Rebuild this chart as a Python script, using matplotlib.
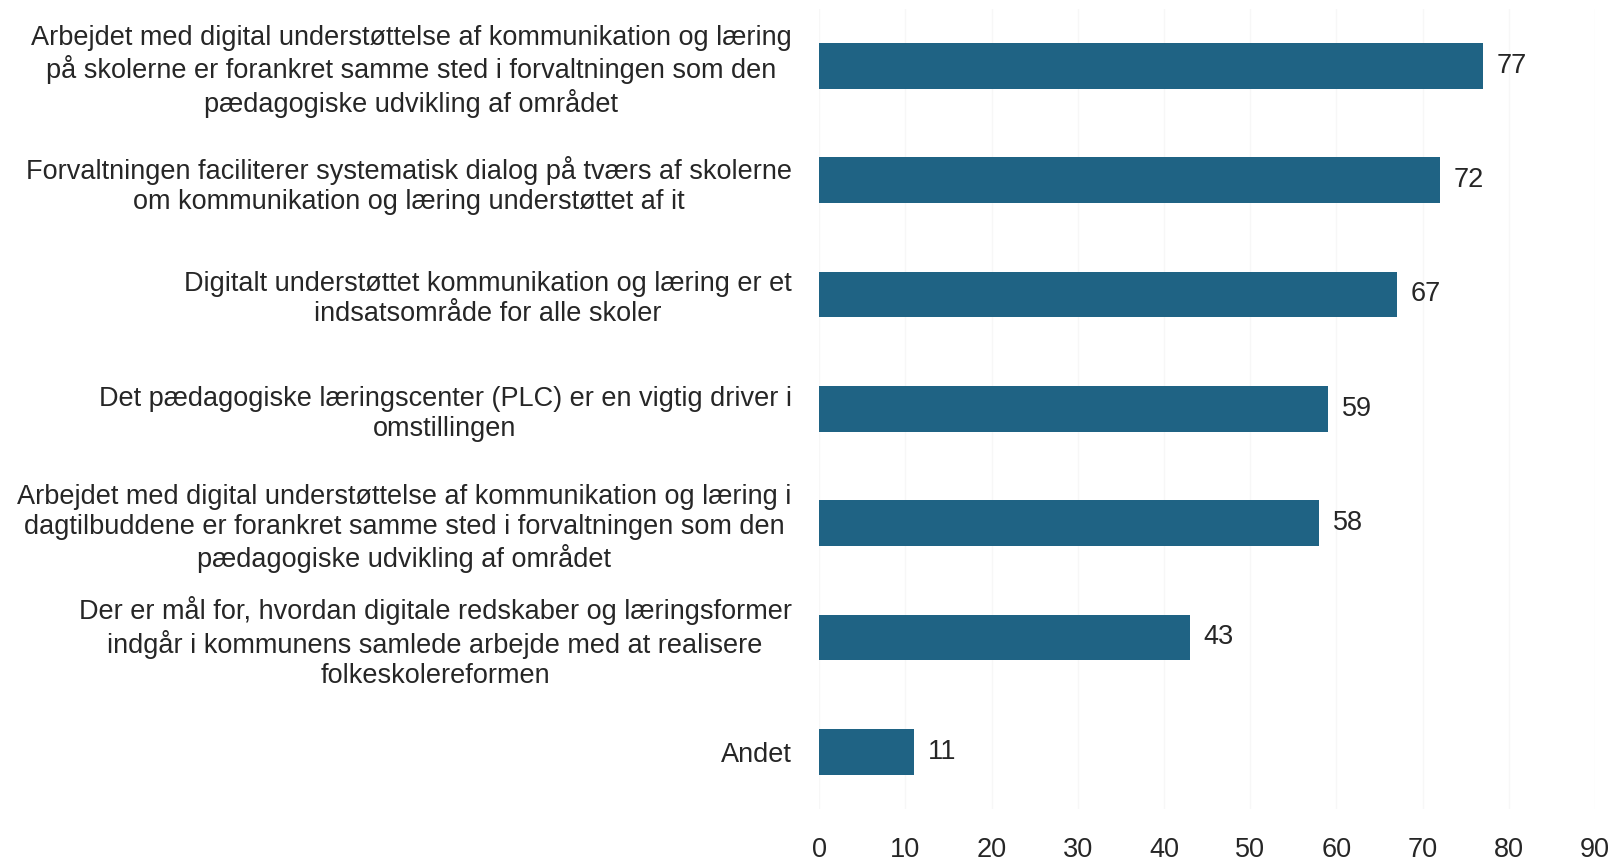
import numpy as np
import matplotlib.pyplot as plt

# Data
labels = [
    "Arbejdet med digital understøttelse af kommunikation og læring\n"
    "på skolerne er forankret samme sted i forvaltningen som den\n"
    "pædagogiske udvikling af området",
    "Forvaltningen faciliterer systematisk dialog på tværs af skolerne\n"
    "om kommunikation og læring understøttet af it",
    "Digitalt understøttet kommunikation og læring er et\n"
    "indsatsområde for alle skoler",
    "Det pædagogiske læringscenter (PLC) er en vigtig driver i\n"
    "omstillingen",
    "Arbejdet med digital understøttelse af kommunikation og læring i\n"
    "dagtilbuddene er forankret samme sted i forvaltningen som den\n"
    "pædagogiske udvikling af området",
    "Der er mål for, hvordan digitale redskaber og læringsformer\n"
    "indgår i kommunens samlede arbejde med at realisere\n"
    "folkeskolereformen",
    "Andet",
]
values = [77, 72, 67, 59, 58, 43, 11]
xticks = [0, 10, 20, 30, 40, 50, 60, 70, 80, 90]

bar_color = "#1f6384"
text_color = "#262626"
fs = 19.5
plt.rcParams['font.family'] = ['Liberation Sans', 'DejaVu Sans']

fig = plt.figure(figsize=(16.16, 8.67), dpi=100)
ax = fig.add_axes([0.507, 0.067, 0.48, 0.923])

y = np.arange(len(values))
ax.barh(y, values, height=0.4, color=bar_color, zorder=2)
for yi, v in zip(y, values):
    ax.text(v + 1.6, yi, str(v), va='center', ha='left', fontsize=fs, color=text_color)

ax.set_xlim(0, 90)
ax.set_ylim(len(values) - 0.5, -0.5)
ax.set_xticks(xticks)
ax.set_yticks(y)
ax.set_yticklabels(labels, fontsize=fs, color=text_color, multialignment='center')
ax.tick_params(axis='x', labelsize=fs, labelcolor=text_color, length=0, pad=20)
ax.tick_params(axis='y', length=0, pad=20)
ax.grid(axis='x', color='#f7f7f7', linewidth=1, zorder=0)
for s in ax.spines.values():
    s.set_visible(False)

fig.savefig("out.png", dpi=100)
